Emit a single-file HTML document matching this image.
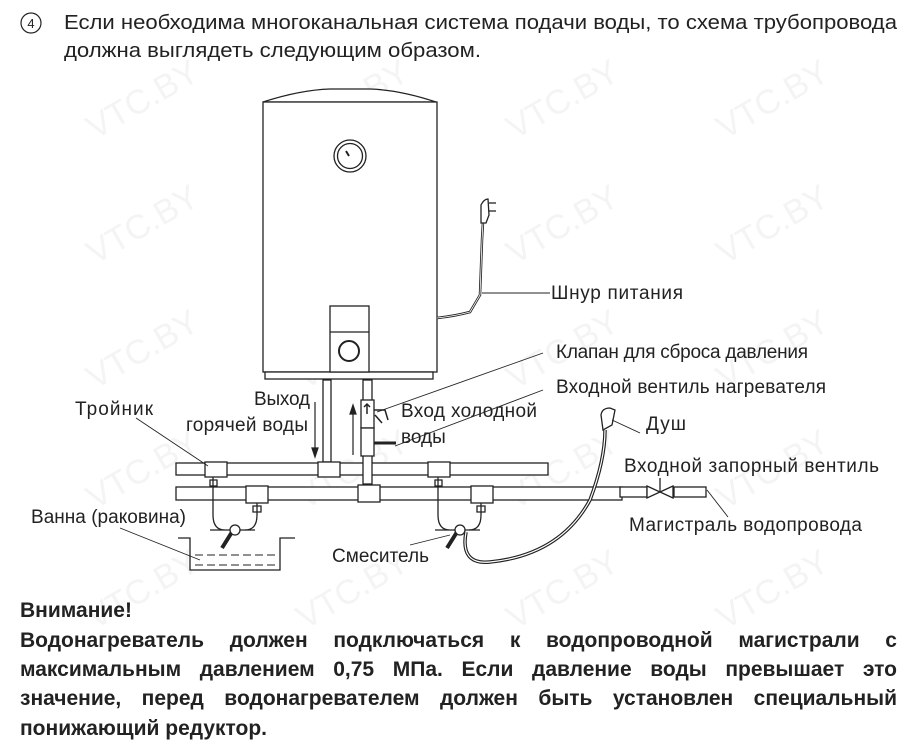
<!DOCTYPE html>
<html><head><meta charset="utf-8"><style>
html,body{margin:0;padding:0;background:#fff;}
body{position:relative;width:917px;height:755px;overflow:hidden;}
svg{display:block;font-family:"Liberation Sans","Noto Sans CJK SC",sans-serif;}
.warn{position:absolute;left:20px;width:877px;font-family:"Liberation Sans",sans-serif;font-weight:bold;font-size:21px;line-height:24px;color:#222;text-align:justify;text-align-last:justify;white-space:nowrap;transform:scaleX(1);transform-origin:0 0;}
</style></head><body>
<svg width="917" height="755" viewBox="0 0 917 755" xmlns="http://www.w3.org/2000/svg">
<g fill="#f4f4f4" font-size="34">
<text transform="translate(95,140) rotate(-30)">VTC.BY</text>
<text transform="translate(305,140) rotate(-30)">VTC.BY</text>
<text transform="translate(515,140) rotate(-30)">VTC.BY</text>
<text transform="translate(725,140) rotate(-30)">VTC.BY</text>
<text transform="translate(95,265) rotate(-30)">VTC.BY</text>
<text transform="translate(305,265) rotate(-30)">VTC.BY</text>
<text transform="translate(515,265) rotate(-30)">VTC.BY</text>
<text transform="translate(725,265) rotate(-30)">VTC.BY</text>
<text transform="translate(95,390) rotate(-30)">VTC.BY</text>
<text transform="translate(305,390) rotate(-30)">VTC.BY</text>
<text transform="translate(515,390) rotate(-30)">VTC.BY</text>
<text transform="translate(725,390) rotate(-30)">VTC.BY</text>
<text transform="translate(95,510) rotate(-30)">VTC.BY</text>
<text transform="translate(305,510) rotate(-30)">VTC.BY</text>
<text transform="translate(515,510) rotate(-30)">VTC.BY</text>
<text transform="translate(725,510) rotate(-30)">VTC.BY</text>
<text transform="translate(95,630) rotate(-30)">VTC.BY</text>
<text transform="translate(305,630) rotate(-30)">VTC.BY</text>
<text transform="translate(515,630) rotate(-30)">VTC.BY</text>
<text transform="translate(725,630) rotate(-30)">VTC.BY</text>
</g>

<circle cx="31" cy="23" r="10" fill="none" stroke="#222" stroke-width="1.2"/>
<text x="31" y="28" font-size="13" text-anchor="middle" fill="#222">4</text>
<text x="64" y="29" font-size="20" fill="#222" textLength="833" lengthAdjust="spacingAndGlyphs">Если необходима многоканальная система подачи воды, то  схема трубопровода</text>
<text x="64" y="57" font-size="20" fill="#222" textLength="417" lengthAdjust="spacingAndGlyphs">должна выглядеть следующим образом.</text>

<g stroke="#222" stroke-width="1.3" fill="#fff">
<path d="M263,102 Q300,90 330,89 L370,89 Q400,90 436,102 Z"/>
<rect x="263" y="102" width="174" height="270"/>
<rect x="265" y="372" width="168" height="7"/>
<circle cx="350" cy="156" r="16"/>
<circle cx="350" cy="156" r="12.5"/>
<line x1="346" y1="151" x2="349" y2="156" stroke-width="2"/>
<rect x="330" y="306" width="39" height="66"/>
<line x1="330" y1="332" x2="369" y2="332"/>
<circle cx="349" cy="351" r="10" stroke-width="2"/>
<path d="M437,318 Q455,316 470,312 L480,295 L482,240 L483,222" fill="none" stroke-width="2.5"/>
<path d="M437,318 Q455,316 470,312 L480,295 L482,240 L483,222" fill="none" stroke="#fff" stroke-width="0.8"/>
<path d="M481,223 L481,205 Q484,199 488,199 L489,215 L486,223 Z"/>
<line x1="489" y1="203" x2="496" y2="203"/><line x1="489" y1="211" x2="496" y2="211"/>

<rect x="176" y="463" width="372" height="12"/>
<rect x="176" y="487" width="446" height="13"/>
<rect x="620" y="487" width="27" height="10"/>
<path d="M647,486 L660,492 L647,498 Z M673,486 L660,492 L673,498 Z"/>
<rect x="674" y="487" width="32" height="10"/>
<line x1="660" y1="492" x2="660" y2="478"/>
<rect x="323" y="380" width="8" height="82"/>
<rect x="363" y="380" width="9" height="104"/>
<rect x="361" y="400" width="13" height="28"/>
<rect x="361" y="428" width="13" height="28"/>
<rect x="318" y="462" width="22" height="15"/>
<rect x="358" y="485" width="22" height="17"/>
<rect x="205" y="462" width="22" height="15"/>
<rect x="428" y="462" width="22" height="15"/>
<rect x="246" y="486" width="22" height="17"/>
<rect x="471" y="486" width="22" height="17"/>
</g>
<g stroke="#222" stroke-width="1.5" fill="none">
<path d="M374,410 L385,410 L388,420 M375,415 L382,423"/>
<line x1="374" y1="443" x2="396" y2="443" stroke-width="3"/>
<line x1="367" y1="404" x2="367" y2="414"/>
<path d="M364,407 L367,404 L370,407"/>
</g>
<g stroke="#222" stroke-width="1.2" fill="#222">
<line x1="315" y1="402" x2="315" y2="450"/><path d="M312,448 L315,457 L318,448 Z"/>
<line x1="353" y1="412" x2="353" y2="455"/><path d="M350,414 L353,405 L356,414 Z"/>
</g>
<g stroke="#222" stroke-width="1.3" fill="none">
<path d="M213,477 L213,515 Q213,530 225,530 L240,530 M210,530 L255,530"/>
<path d="M257,503 L257,515 Q257,530 245,530"/>
<path d="M210,480 h7 v6 h-7z M253,506 h8 v6 h-8z"/>
<path d="M232,532 L222,548" stroke-width="4"/>
<circle cx="235" cy="530" r="5" fill="#fff"/>
<path d="M438,477 L438,515 Q438,530 450,530 L465,530 M435,530 L480,530"/>
<path d="M481,503 L481,515 Q481,530 469,530"/>
<path d="M435,480 h7 v6 h-7z M477,506 h8 v6 h-8z"/>
<path d="M457,532 L447,548" stroke-width="4"/>
<circle cx="460" cy="530" r="5" fill="#fff"/>
<path d="M466,532 Q460,565 490,562 Q560,555 590,500 Q605,460 605,430" stroke-width="3.5"/>
<path d="M466,532 Q460,565 490,562 Q560,555 590,500 Q605,460 605,430" stroke="#fff" stroke-width="1.2"/>
<path d="M603,430 L601,415 Q602,408 610,408 L615,410 L612,425 Z" fill="#fff"/>
<path d="M178,538 L190,538 L190,570 L280,570 L280,538 L295,538"/>
<path d="M195,555 h8 m4,0 h8 m4,0 h8 m4,0 h8 m4,0 h8 m4,0 h8 m4,0 h8 M195,565 h8 m4,0 h8 m4,0 h8 m4,0 h8 m4,0 h8 m4,0 h8 m4,0 h8" stroke-width="1"/>
</g>
<g stroke="#222" stroke-width="0.9" fill="none">
<line x1="136" y1="418" x2="208" y2="466"/>
<line x1="120" y1="528" x2="200" y2="560"/>
<line x1="550" y1="293" x2="482" y2="293"/>
<line x1="543" y1="353" x2="377" y2="412"/>
<line x1="543" y1="390" x2="395" y2="446"/>
<line x1="640" y1="433" x2="612" y2="420"/>
<line x1="707" y1="490" x2="728" y2="517"/>
<line x1="410" y1="545" x2="450" y2="535"/>
</g>

<g fill="#222" font-size="19">
<text x="551" y="299" textLength="132">Шнур питания</text>
<text x="556" y="358" textLength="252">Клапан для сброса давления</text>
<text x="556" y="393" textLength="270">Входной вентиль нагревателя</text>
<text x="401" y="417" textLength="136">Вход холодной</text>
<text x="401" y="443">воды</text>
<text x="254" y="405" textLength="56">Выход</text>
<text x="186" y="431" textLength="122">горячей воды</text>
<text x="75" y="415" textLength="78">Тройник</text>
<text x="646" y="430" textLength="40">Душ</text>
<text x="624" y="472" textLength="255">Входной запорный  вентиль</text>
<text x="629" y="531" textLength="233">Магистраль водопровода</text>
<text x="31" y="523" textLength="155">Ванна (раковина)</text>
<text x="332" y="562" textLength="97">Смеситель</text>
</g>
</svg>
<div class="warn" style="top:599px;text-align:left;text-align-last:left;">Внимание!</div>
<div class="warn" style="top:629px;">Водонагреватель должен подключаться к водопроводной магистрали с</div>
<div class="warn" style="top:658px;">максимальным давлением 0,75 МПа. Если давление воды превышает это</div>
<div class="warn" style="top:687px;">значение, перед водонагревателем должен быть установлен специальный</div>
<div class="warn" style="top:717px;text-align:left;text-align-last:left;">понижающий редуктор.</div>
</body></html>
